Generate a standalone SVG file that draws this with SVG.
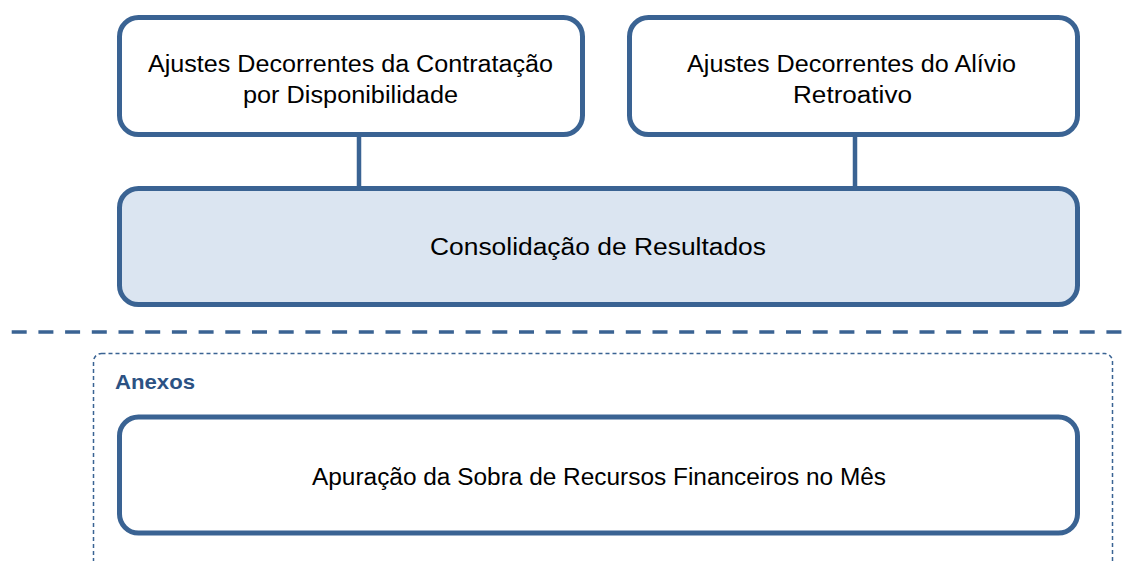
<svg xmlns="http://www.w3.org/2000/svg" width="1124" height="561" viewBox="0 0 1124 561">
<style>
.box{fill:#ffffff;stroke:#3a6393;stroke-width:5}
.hl{fill:#dbe5f1}
.lbl{font-family:"Liberation Sans",Arial,sans-serif;font-size:23px;fill:#000000;text-anchor:middle}
.conn{stroke:#3a6393;stroke-width:4.5;fill:none}
</style>
<rect width="1124" height="561" fill="#ffffff"/>
<g id="connectors">
<line class="conn" x1="359" y1="136" x2="359" y2="188"/>
<line class="conn" x1="855" y1="136" x2="855" y2="188"/>
</g>
<g id="node-contratacao">
<rect class="box" x="119.5" y="17.5" width="463" height="117" rx="19"/>
<text class="lbl" x="350.5" y="72" textLength="405" lengthAdjust="spacingAndGlyphs">Ajustes Decorrentes da Contratação</text>
<text class="lbl" x="350.5" y="103" textLength="215" lengthAdjust="spacingAndGlyphs">por Disponibilidade</text>
</g>
<g id="node-alivio">
<rect class="box" x="629.5" y="17.5" width="448" height="117" rx="19"/>
<text class="lbl" x="851.5" y="72" textLength="329" lengthAdjust="spacingAndGlyphs">Ajustes Decorrentes do Alívio</text>
<text class="lbl" x="852.5" y="103" textLength="119" lengthAdjust="spacingAndGlyphs">Retroativo</text>
</g>
<g id="node-consolidacao">
<rect class="box hl" x="119.5" y="188.5" width="958" height="116" rx="19"/>
<text class="lbl" x="598" y="255" textLength="336" lengthAdjust="spacingAndGlyphs">Consolidação de Resultados</text>
</g>
<g id="separator">
<line x1="11.7" y1="332" x2="1124" y2="332" stroke="#3a6393" stroke-width="3.5" stroke-dasharray="15 11.7"/>
</g>
<g id="anexos">
<rect x="93.5" y="353.5" width="1019" height="260" rx="8" fill="none" stroke="#3a6393" stroke-width="1.5" stroke-dasharray="4 3"/>
<text x="115" y="389" font-family="Liberation Sans,Arial,sans-serif" font-size="21" font-weight="bold" fill="#2c5283" textLength="80" lengthAdjust="spacingAndGlyphs">Anexos</text>
</g>
<g id="node-apuracao">
<rect class="box" x="119.5" y="417" width="958" height="116" rx="19"/>
<text class="lbl" x="599" y="485" textLength="574" lengthAdjust="spacingAndGlyphs">Apuração da Sobra de Recursos Financeiros no Mês</text>
</g>
</svg>
